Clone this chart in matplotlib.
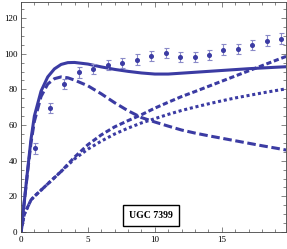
import matplotlib.pyplot as plt
from matplotlib.ticker import MultipleLocator

# observed rotation curve (kpc, km/s)
r_obs = [1.08, 2.16, 3.24, 4.32, 5.40, 6.48, 7.56, 8.64, 9.72, 10.80,
         11.88, 12.96, 14.04, 15.12, 16.20, 17.28, 18.36, 19.44]
v_obs = [47.0, 69.5, 83.0, 89.5, 91.6, 93.8, 94.7, 96.6, 98.7, 100.4,
         98.1, 98.1, 99.4, 102.2, 102.8, 104.8, 107.4, 108.4]
v_err = [3.0, 3.0, 3.0, 3.0, 2.8, 2.8, 2.8, 3.0, 3.0, 3.0,
         2.8, 2.8, 2.8, 3.0, 2.8, 2.8, 3.0, 3.0]

# model curves
r_mod = [0, 0.25, 0.5, 0.75, 1, 1.5, 2, 2.5, 3, 3.5, 4, 5, 6, 7, 8, 9,
         10, 11, 12, 13, 14, 15, 16, 17, 18, 19, 19.8]
v_total = [0, 17, 35, 52, 65, 79, 87, 91.5, 94.0, 95.0, 95.1, 94.2, 92.6,
           91.2, 90.1, 89.2, 88.6, 88.6, 89.1, 89.6, 90.1, 90.6, 91.1,
           91.6, 92.0, 92.4, 92.7]
v_disk = [0, 17, 34, 50, 62, 76, 83, 86, 87, 86.5, 85.2, 82, 77.5, 72.5,
          68, 64.2, 61.7, 59.4, 57.2, 55.5, 54, 52.6, 51.2, 49.8, 48.4,
          47.1, 46]
v_halo1 = [0, 10, 14, 18, 20, 23.5, 27, 30.5, 34, 38, 42, 49, 54.5, 59,
           62.5, 65.8, 69.5, 72.8, 76, 78.8, 81.7, 84.6, 87.5, 90.4, 93.3,
           96.2, 98.5]
v_halo2 = [0, 10, 14, 18, 20, 23.5, 27, 30.5, 34, 37.5, 41, 46.5, 51, 55,
           58.3, 61.2, 63.6, 66, 68.2, 70.1, 71.9, 73.6, 75.2, 76.6, 78,
           79.3, 80.3]

col = '#3b3ba3'

fig = plt.figure(figsize=(2.87, 2.49), dpi=100)
ax = fig.add_axes([0.073, 0.068, 0.924, 0.924])

ax.plot(r_mod, v_total, color=col, lw=2.2, solid_capstyle='butt')
ax.plot(r_mod, v_disk, color=col, lw=2.2, dashes=(2.8, 1.2))
ax.plot(r_mod, v_halo1, color=col, lw=2.2, dashes=(1.7, 0.9))
ax.plot(r_mod, v_halo2, color=col, lw=2.2, dashes=(1.0, 0.9))

ax.errorbar(r_obs, v_obs, yerr=v_err, fmt='o', ms=2.6, color=col,
            ecolor='#8a8ac8', elinewidth=0.8, capsize=1.8, capthick=0.8)

ax.text(9.7, 9.2, 'UGC 7399', ha='center', va='center', fontsize=7,
        fontweight='bold', family='Liberation Serif',
        bbox=dict(boxstyle='square,pad=0.65', fc='white', ec='black', lw=1))

ax.set_xlim(0, 19.8)
ax.set_ylim(0, 129)
ax.xaxis.set_major_locator(MultipleLocator(5))
ax.xaxis.set_minor_locator(MultipleLocator(1))
ax.yaxis.set_major_locator(MultipleLocator(20))
ax.yaxis.set_minor_locator(MultipleLocator(5))
ax.tick_params(which='both', direction='in', top=True, right=True,
               width=0.5, color='#555555', labelsize=6.5, pad=2.5)
ax.tick_params(which='major', length=3.5)
ax.tick_params(which='minor', length=2)
for lab in ax.get_xticklabels() + ax.get_yticklabels():
    lab.set_family('Liberation Serif')
for s in ax.spines.values():
    s.set_linewidth(0.6)
    s.set_color('#444444')

fig.savefig('out.png', dpi=100)
